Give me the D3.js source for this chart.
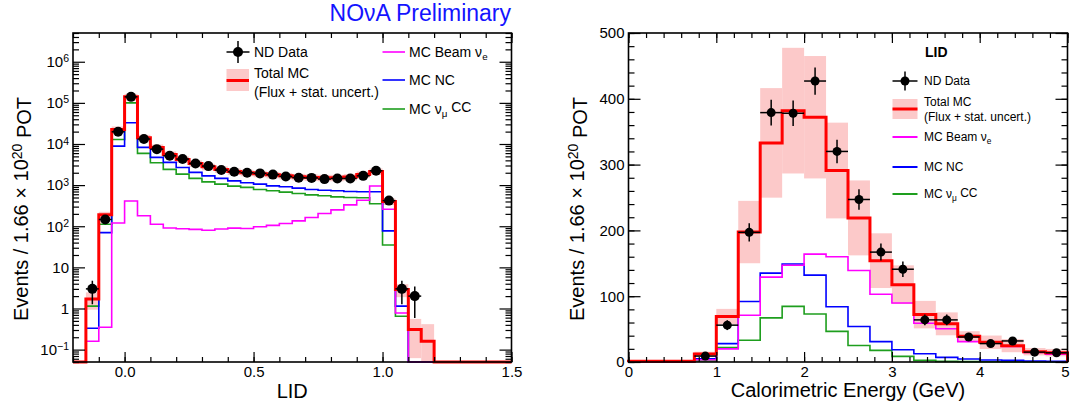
<!DOCTYPE html>
<html>
<head>
<meta charset="utf-8">
<script src="https://cdn.jsdelivr.net/npm/d3@7/dist/d3.min.js"></script>
<style>
  body { margin: 0; background: #fff; }
  svg  { display: block; font-family: 'Liberation Sans', Arial, Helvetica, sans-serif; }
</style>
</head>
<body>
<div id="chart"></div>
<script>
// ── Left panel: LID (log scale), 0.05 wide bins ─────────────────
var lidEdges = [-0.2, -0.15, -0.1, -0.05, 0, 0.05, 0.1, 0.15, 0.2, 0.25, 0.3, 0.35,
  0.4, 0.45, 0.5, 0.55, 0.6, 0.65, 0.7, 0.75, 0.8, 0.85, 0.9, 0.95, 1.0, 1.05, 1.1,
  1.15, 1.2, 1.25, 1.3, 1.35, 1.4, 1.45, 1.5];
var lidData = [0, 3, 146, 19800, 140000, 13200, 7500, 5160, 4300, 3370, 2900, 2320,
  2110, 2000, 1930, 1800, 1620, 1510, 1500, 1400, 1450, 1450, 1680, 2230, 420, 3, 2,
  0, 0, 0, 0, 0, 0, 0];
var lidTotal = [0, 1.7, 190, 22600, 140000, 14200, 8260, 5580, 4220, 3370, 2790, 2410,
  2150, 2000, 1890, 1780, 1680, 1590, 1540, 1510, 1510, 1570, 1820, 2150, 400, 2.9,
  0.31, 0.16, 0, 0, 0, 0, 0, 0];
var lidTotalErr = [0, 0.45, 0.18, 0.18, 0.18, 0.18, 0.18, 0.18, 0.18, 0.18, 0.18, 0.18,
  0.18, 0.18, 0.18, 0.18, 0.18, 0.18, 0.18, 0.18, 0.18, 0.18, 0.18, 0.18, 0.18, 0.35,
  0.8, 1.6, 0, 0, 0, 0, 0, 0];
var lidBeamNue = [0, 0.16, 0.35, 120, 410, 180, 112, 91, 87, 84, 80, 86, 90, 88, 97,
  105, 117, 135, 163, 204, 250, 330, 430, 950, 260, 0.78, 0, 0, 0, 0, 0, 0, 0, 0];
var lidNC = [0, 0.33, 70, 8900, 32800, 8260, 4720, 3570, 2690, 2040, 1680, 1455, 1270,
  1140, 1056, 960, 910, 845, 785, 750, 727, 700, 690, 690, 77, 1.14, 0, 0, 0, 0, 0, 0,
  0, 0];
var lidNumuCC = [0, 1.14, 112, 12900, 100000, 5900, 3490, 2410, 1850, 1455, 1200, 1056,
  946, 880, 785, 727, 676, 628, 580, 550, 519, 500, 491, 351, 35, 0.65, 0, 0, 0, 0, 0,
  0, 0, 0];
var lidXTicks = [0, 0.5, 1.0, 1.5];
var lidXLabels = ['0.0', '0.5', '1.0', '1.5'];
var lidYTicks = [0.1, 1, 10, 100, 1000, 10000, 100000, 1000000];

// ── Right panel: calorimetric energy, 0.25 GeV bins ─────────────
var energyEdges = [0, 0.25, 0.5, 0.75, 1.0, 1.25, 1.5, 1.75, 2.0, 2.25, 2.5, 2.75, 3.0,
  3.25, 3.5, 3.75, 4.0, 4.25, 4.5, 4.75, 5.0];
var energyData = [0, 0, 0, 9, 56, 197, 379, 378, 427, 320, 247, 167, 141, 64, 64, 38,
  28, 32, 15, 14];
var energyTotal = [1, 1, 1, 12, 69, 197.5, 333, 382, 372, 291, 219, 154, 117.5, 72, 58,
  39, 30, 24.8, 15.6, 14.2];
var energyTotalErr = [0.3, 0.3, 0.3, 0.3, 0.17, 0.24, 0.25, 0.25, 0.25, 0.25, 0.26,
  0.27, 0.25, 0.29, 0.3, 0.2, 0.34, 0.4, 0.36, 0.4];
var energyBeamNue = [0.2, 0.2, 0.2, 3.5, 20, 71, 129, 147, 164, 160, 139, 103, 89.6, 59,
  50.6, 31, 29, 23.7, 14.6, 12];
var energyNC = [0.3, 0.3, 0.3, 5, 28, 92, 135, 149, 132, 84, 54, 31, 18.7, 12.6, 7, 4.5,
  3, 2.4, 1.5, 1];
var energyNumuCC = [0.1, 0.1, 0.1, 1.5, 22, 33, 67, 84.5, 73, 46.5, 25, 17.6, 8.5, 2.4,
  1, 0.6, 0.4, 0.3, 0.2, 0.2];
var energyXTicks = [0, 1, 2, 3, 4, 5];
var energyYTicks = [0, 100, 200, 300, 400, 500];

var COLORS = {
  total: '#ff0000',
  band:  '#fcc9c9',
  nue:   '#ff00ff',
  nc:    '#0000ff',
  numu:  '#1e9e1e',
  data:  '#000000'
};

var W = 1070, H = 412;
var svg = d3.select('#chart').append('svg')
  .attr('width', W)
  .attr('height', H)
  .style('background', '#fff');

// ── Helpers ───────────────────────────────────────────────
function stepPath(edges, vals, x, y, floor) {
  var p = 'M' + x(edges[0]) + ',' + y(floor);
  vals.forEach(function(v, i) {
    p += 'V' + y(Math.max(v, floor)) + 'H' + x(edges[i + 1]);
  });
  return p + 'V' + y(floor);
}

function addSub(textSel, main, sub, after) {
  textSel.append('tspan').text(main);
  textSel.append('tspan').attr('dy', '0.35em').attr('font-size', '0.7em').text(sub);
  if (after) textSel.append('tspan').attr('dy', '-0.35em').text(after);
}

function yTitle(g, cx, cy) {
  var t = g.append('text')
    .attr('transform', 'translate(' + cx + ',' + cy + ') rotate(-90)')
    .attr('text-anchor', 'middle')
    .attr('font-size', '20px')
    .attr('fill', '#000');
  t.append('tspan').text('Events / 1.66 \u00d7 10');
  t.append('tspan').attr('dy', '-0.45em').attr('font-size', '0.7em').text('20');
  t.append('tspan').attr('dy', '0.45em').text(' POT');
}

function drawPanel(cfg) {
  var g = svg.append('g');
  var x = cfg.x, y = cfg.y, floor = cfg.floor;
  var n = cfg.total.length;
  var idx = d3.range(n);

  // uncertainty band
  g.append('g').selectAll('rect')
    .data(idx.filter(function(i) { return cfg.total[i] > 0; }))
    .enter().append('rect')
    .attr('x', function(i) { return x(cfg.edges[i]); })
    .attr('width', function(i) { return x(cfg.edges[i + 1]) - x(cfg.edges[i]); })
    .attr('y', function(i) { return y(Math.min(cfg.total[i] * (1 + cfg.err[i]), cfg.yMax)); })
    .attr('height', function(i) {
      var lo = Math.max(cfg.total[i] * (1 - cfg.err[i]), floor);
      var hi = Math.min(cfg.total[i] * (1 + cfg.err[i]), cfg.yMax);
      return y(lo) - y(hi);
    })
    .attr('fill', COLORS.band);

  // components then total
  [[cfg.numu, COLORS.numu], [cfg.nc, COLORS.nc], [cfg.nue, COLORS.nue]].forEach(function(s) {
    g.append('path')
      .attr('d', stepPath(cfg.edges, s[0], x, y, floor))
      .attr('fill', 'none')
      .attr('stroke', s[1])
      .attr('stroke-width', 1.6);
  });
  g.append('path')
    .attr('d', stepPath(cfg.edges, cfg.total, x, y, floor))
    .attr('fill', 'none')
    .attr('stroke', COLORS.total)
    .attr('stroke-width', 3);

  // data points with Poisson errors
  var pts = g.append('g').selectAll('g')
    .data(idx.filter(function(i) { return cfg.data[i] > 0; }))
    .enter().append('g');
  pts.append('line')
    .attr('x1', function(i) { return x(cfg.edges[i]); })
    .attr('x2', function(i) { return x(cfg.edges[i + 1]); })
    .attr('y1', function(i) { return y(cfg.data[i]); })
    .attr('y2', function(i) { return y(cfg.data[i]); })
    .attr('stroke', COLORS.data).attr('stroke-width', 1.5);
  pts.append('line')
    .attr('x1', function(i) { return x((cfg.edges[i] + cfg.edges[i + 1]) / 2); })
    .attr('x2', function(i) { return x((cfg.edges[i] + cfg.edges[i + 1]) / 2); })
    .attr('y1', function(i) { return y(Math.max(cfg.data[i] - Math.sqrt(cfg.data[i]), floor)); })
    .attr('y2', function(i) { return y(cfg.data[i] + Math.sqrt(cfg.data[i])); })
    .attr('stroke', COLORS.data).attr('stroke-width', 1.5);
  pts.append('circle')
    .attr('cx', function(i) { return x((cfg.edges[i] + cfg.edges[i + 1]) / 2); })
    .attr('cy', function(i) { return y(cfg.data[i]); })
    .attr('r', cfg.r)
    .attr('fill', COLORS.data);

  // axes, ROOT style: ticks inside on all four sides
  var fr = cfg.frame;
  function tickAxis(axis, tx, ty, vals, len, fmt) {
    var a = g.append('g').attr('transform', 'translate(' + tx + ',' + ty + ')')
      .call(axis.tickValues(vals).tickSizeInner(-len).tickSizeOuter(0)
        .tickPadding(cfg.pad).tickFormat(fmt || ''));
    a.select('.domain').remove();
    a.selectAll('line').attr('stroke', '#000').attr('stroke-width', 1.2);
    a.selectAll('text').attr('font-size', '15px').attr('font-family', null).attr('fill', '#000');
    return a;
  }
  var xb = tickAxis(d3.axisBottom(x), 0, fr.b, cfg.xMajor, 10,
    function(d, i) { return cfg.xLabels[i]; });
  tickAxis(d3.axisBottom(x), 0, fr.b, cfg.xMinor, 5);
  tickAxis(d3.axisTop(x), 0, fr.t, cfg.xMajor, 10);
  tickAxis(d3.axisTop(x), 0, fr.t, cfg.xMinor, 5);
  var yl = tickAxis(d3.axisLeft(y), fr.l, 0, cfg.yMajor, 12, cfg.yFormat);
  tickAxis(d3.axisLeft(y), fr.l, 0, cfg.yMinor, 6);
  tickAxis(d3.axisRight(y), fr.r, 0, cfg.yMajor, 12);
  tickAxis(d3.axisRight(y), fr.r, 0, cfg.yMinor, 6);
  if (cfg.yLabelHook) cfg.yLabelHook(yl);
  // keep the last x label inside the page
  if (cfg.lastLabelDx) {
    xb.selectAll('.tick text').filter(function(d, i, nodes) { return i === nodes.length - 1; })
      .attr('dx', cfg.lastLabelDx);
  }

  g.append('rect')
    .attr('x', fr.l).attr('y', fr.t)
    .attr('width', fr.r - fr.l).attr('height', fr.b - fr.t)
    .attr('fill', 'none').attr('stroke', '#000').attr('stroke-width', 1.6);

  g.append('text')
    .attr('x', (fr.l + fr.r) / 2).attr('y', cfg.xTitleY)
    .attr('text-anchor', 'middle').attr('font-size', '20px')
    .text(cfg.xTitle);
  yTitle(g, cfg.yTitleX, 209);
  return g;
}

// ── Left panel ───────────────────────────────────────────
var lf = { l: 73, r: 511.5, t: 33, b: 362 };
var xL = d3.scaleLinear().domain([-0.2, 1.5]).range([lf.l, lf.r]);
var yL = d3.scaleLog().domain([0.05, 5e6]).range([lf.b, lf.t]);
var lidYMinor = [];
[-2, -1, 0, 1, 2, 3, 4, 5, 6].forEach(function(e) {
  d3.range(2, 10).forEach(function(m) {
    var v = m * Math.pow(10, e);
    if (v >= 0.05 && v <= 5e6) lidYMinor.push(v);
  });
});

drawPanel({
  x: xL, y: yL, floor: 0.05, yMax: 5e6, frame: lf, r: 5, pad: 4,
  edges: lidEdges, data: lidData, total: lidTotal, err: lidTotalErr,
  nue: lidBeamNue, nc: lidNC, numu: lidNumuCC,
  xMajor: lidXTicks, xLabels: lidXLabels, xMinor: d3.range(-0.2, 1.501, 0.1),
  yMajor: lidYTicks, yMinor: lidYMinor, yFormat: function() { return ''; },
  yLabelHook: function(a) {
    a.selectAll('.tick text').each(function(d) {
      var t = d3.select(this);
      var e = Math.round(Math.log10(d));
      if (e === 0) { t.text('1'); return; }
      if (e === 1) { t.text('10'); return; }
      t.append('tspan').text('10');
      t.append('tspan').attr('dy', '-0.45em').attr('font-size', '0.7em')
        .text(e < 0 ? '\u2212' + (-e) : String(e));
    });
  },
  xTitle: 'LID', xTitleY: 398, yTitleX: 28
});

// ── Right panel ──────────────────────────────────────────
var rf = { l: 628.5, r: 1067.5, t: 33, b: 362 };
var xR = d3.scaleLinear().domain([0, 5]).range([rf.l, rf.r]);
var yR = d3.scaleLinear().domain([0, 500]).range([rf.b, rf.t]);

drawPanel({
  x: xR, y: yR, floor: 0, yMax: 500, frame: rf, r: 4.5, pad: 4,
  edges: energyEdges, data: energyData, total: energyTotal, err: energyTotalErr,
  nue: energyBeamNue, nc: energyNC, numu: energyNumuCC,
  xMajor: energyXTicks, xLabels: energyXTicks.map(String), xMinor: d3.range(0, 5.001, 0.2),
  yMajor: energyYTicks, yMinor: d3.range(0, 500.1, 20), yFormat: d3.format('d'),
  lastLabelDx: -2.5,
  xTitle: 'Calorimetric Energy (GeV)', xTitleY: 397, yTitleX: 584
});

// ── Title ────────────────────────────────────────────────
svg.append('text')
  .attr('x', 511).attr('y', 21)
  .attr('text-anchor', 'end')
  .attr('font-size', '23px')
  .attr('fill', '#1414ff')
  .text('NO\u03bdA Preliminary');

// ── Legends ──────────────────────────────────────────────
function legendData(cx, cy, half, vh, r) {
  svg.append('line').attr('x1', cx - half).attr('x2', cx + half).attr('y1', cy).attr('y2', cy)
    .attr('stroke', '#000').attr('stroke-width', 1.5);
  svg.append('line').attr('x1', cx).attr('x2', cx).attr('y1', cy - vh).attr('y2', cy + vh)
    .attr('stroke', '#000').attr('stroke-width', 1.5);
  svg.append('circle').attr('cx', cx).attr('cy', cy).attr('r', r).attr('fill', '#000');
}
function legendText(x, y, size) {
  return svg.append('text').attr('x', x).attr('y', y).attr('dy', '0.35em')
    .attr('font-size', size).attr('fill', '#000');
}
function legendLine(x1, x2, y, color, w) {
  svg.append('line').attr('x1', x1).attr('x2', x2).attr('y1', y).attr('y2', y)
    .attr('stroke', color).attr('stroke-width', w);
}

// left legend
legendData(238, 52, 11.5, 11, 5);
legendText(254, 52, '14px').text('ND Data');
svg.append('rect').attr('x', 226.5).attr('y', 69).attr('width', 22.5).attr('height', 22)
  .attr('fill', COLORS.band);
legendLine(226.5, 249, 80.5, COLORS.total, 3);
legendText(254, 73, '14px').text('Total MC');
legendText(254, 92, '14px').text('(Flux + stat. uncert.)');
legendLine(382.5, 405, 52, COLORS.nue, 1.6);
addSub(legendText(409, 52, '14px'), 'MC Beam \u03bd', 'e');
legendLine(382.5, 405, 80, COLORS.nc, 1.6);
legendText(409, 80, '14px').text('MC NC');
legendLine(382.5, 405, 109, COLORS.numu, 1.6);
addSub(legendText(409, 109, '14px'), 'MC \u03bd', '\u03bc', ' CC');

// right legend
legendText(925, 52, '14px').attr('font-weight', 'bold').text('LID');
legendData(905, 81, 12.5, 9.5, 4.5);
legendText(924, 81, '12px').text('ND Data');
svg.append('rect').attr('x', 892.5).attr('y', 99).attr('width', 25).attr('height', 20)
  .attr('fill', COLORS.band);
legendLine(892.5, 917.5, 109, COLORS.total, 3);
legendText(924, 102, '12px').text('Total MC');
legendText(924, 117, '12px').text('(Flux + stat. uncert.)');
legendLine(892.5, 917.5, 137, COLORS.nue, 2);
addSub(legendText(924, 137, '12px'), 'MC Beam \u03bd', 'e');
legendLine(892.5, 917.5, 167, COLORS.nc, 2);
legendText(924, 167, '12px').text('MC NC');
legendLine(892.5, 917.5, 194, COLORS.numu, 2);
addSub(legendText(924, 194, '12px'), 'MC \u03bd', '\u03bc', ' CC');
</script>
</body>
</html>
